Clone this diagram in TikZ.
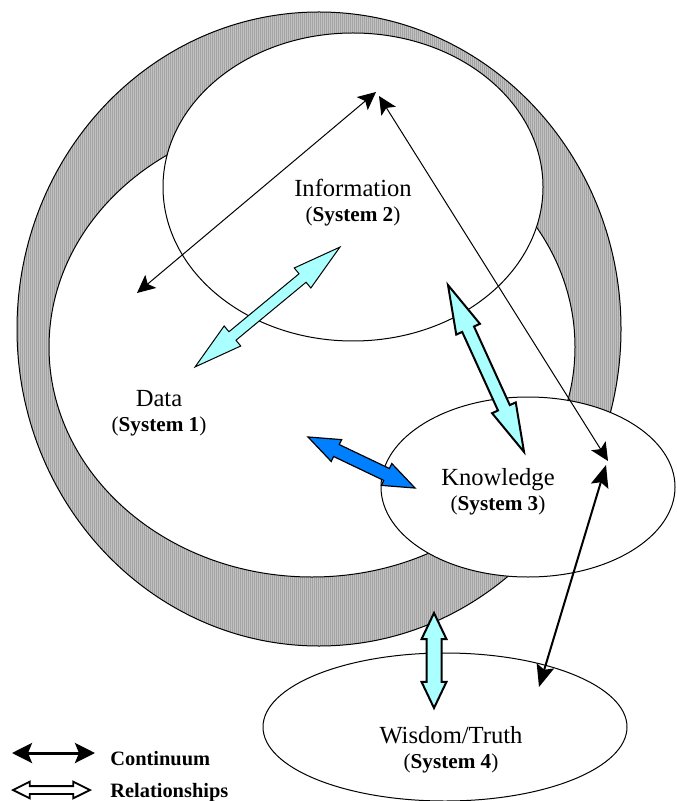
\documentclass[tikz,border=0pt]{standalone}
\usepackage{fontspec}
\setmainfont{Liberation Serif}
\usetikzlibrary{arrows.meta,shapes.arrows,patterns.meta}
\definecolor{relcyan}{RGB}{170,255,255}
\definecolor{relblue}{RGB}{0,128,255}
\newcommand{\sysno}[1]{{\fontsize{10.6}{12.5}\selectfont(\textbf{System #1})}}
\begin{document}
\begin{tikzpicture}[x=0.5pt,y=-0.5pt,
 ringstyle/.style={draw,line width=0.5pt,preaction={fill=black!24},
  pattern={Lines[angle=90,distance=1pt,line width=0.25pt]},pattern color=black!36},
 regionstyle/.style={draw,fill=white,line width=0.5pt},
 namestyle/.style={align=center,inner sep=0pt,font=\fontsize{12.3}{12.5}\selectfont},
 linkstyle/.style={line width=0.5pt,{Stealth[length=9pt,width=8.5pt,inset=2pt]}-{Stealth[length=9pt,width=8.5pt,inset=2pt]}},
 relstyle/.style={double arrow,draw,inner xsep=0pt,line width=0.5pt,fill=relcyan,minimum width=0pt}]
\useasboundingbox (0,0) rectangle (676,801);
\draw[ringstyle] (319,329) ellipse [x radius=302,y radius=317];
\draw[regionstyle] (312,347) ellipse [x radius=263,y radius=230];
\draw[regionstyle] (353,187) ellipse [x radius=190,y radius=154];
\draw[regionstyle] (528,487) ellipse [x radius=147,y radius=90];
\draw[regionstyle] (445,727) ellipse [x radius=182,y radius=74];
\node[namestyle] (info) at (353,203) {Information\\\sysno{2}};
\node[namestyle] (data) at (159,413) {Data\\\sysno{1}};
\node[namestyle] (know) at (498,492) {Knowledge\\\sysno{3}};
\node[namestyle] (wisdom) at (451,750) {Wisdom/Truth\\\sysno{4}};
\coordinate (d1) at (137,293);
\coordinate (i1) at (376,92);
\coordinate (i2) at (379,96);
\coordinate (k1) at (608,461);
\coordinate (k2) at (606,465);
\coordinate (w1) at (539,687);
\draw[linkstyle] (d1)--(i1);
\draw[linkstyle] (i2)--(k1);
\draw[linkstyle,line width=1pt,{Stealth[length=11pt,width=9pt,inset=2pt]}-{Stealth[length=11pt,width=9pt,inset=2pt]}] (k2)--(w1);
\node[relstyle,rotate=39.6,minimum height=94pt,inner ysep=2.5pt,double arrow head extend=3.75pt,double arrow tip angle=30] (di) at (267.5,307) {};
\node[relstyle,line width=1pt,rotate=-65.5,minimum height=91.7pt,inner ysep=2.75pt,double arrow head extend=3.25pt,double arrow tip angle=30] (ik) at (486,368.5) {};
\node[relstyle,line width=1pt,rotate=90,minimum height=47.5pt,inner ysep=3.25pt,double arrow head extend=2.5pt,double arrow tip angle=51] (dw) at (434,660.5) {};
\node[relstyle,fill=relblue,line width=0.6pt,rotate=-25.5,minimum height=59.3pt,inner ysep=3pt,double arrow head extend=2.75pt,double arrow tip angle=42] (dk) at (361.5,462.5) {};
\coordinate (c1) at (12,753);
\coordinate (c2) at (95,753);
\draw[line width=1.5pt,{Stealth[length=10pt,width=10pt,inset=2pt]}-{Stealth[length=10pt,width=10pt,inset=2pt]}] (c1)--(c2);
\node[relstyle,fill=white,line width=0.9pt,minimum height=38.5pt,inner ysep=1.5pt,double arrow head extend=2.25pt,double arrow tip angle=53] (rel) at (51.5,790) {};
\node[anchor=base west,inner sep=0pt,font=\bfseries\fontsize{10.2}{12}\selectfont] (cont) at (110,765) {Continuum};
\node[anchor=base west,inner sep=0pt,font=\bfseries\fontsize{10.2}{12}\selectfont] (rels) at (110,797) {Relationships};
\end{tikzpicture}
\end{document}
